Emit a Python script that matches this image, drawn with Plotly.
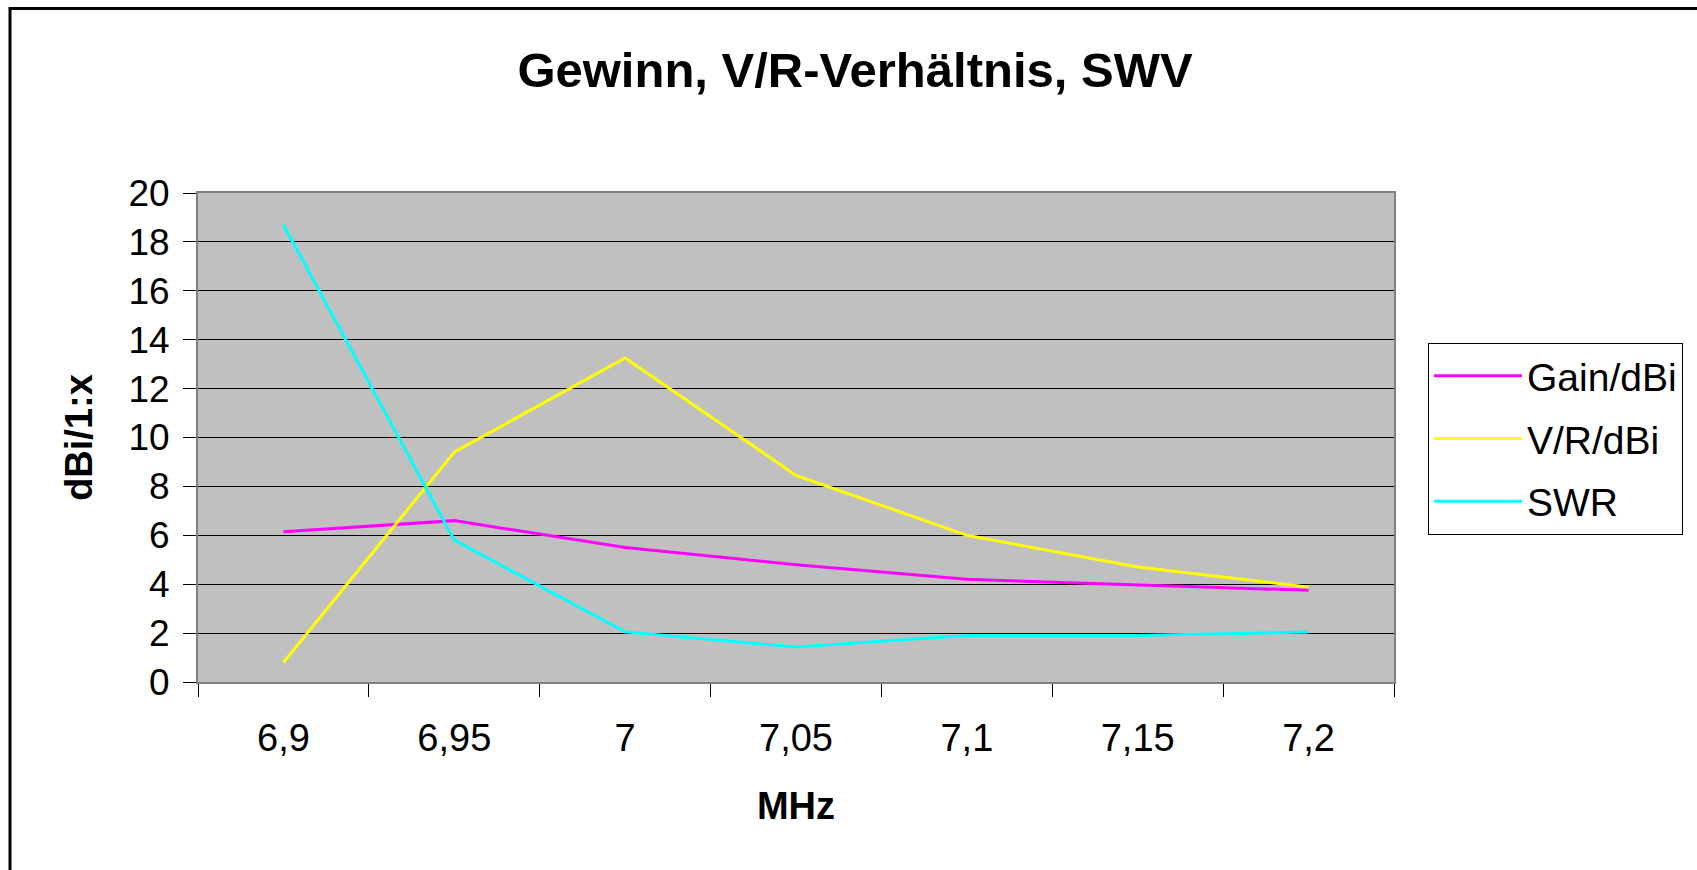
import plotly.graph_objects as go

freqs = ["6,9", "6,95", "7", "7,05", "7,1", "7,15", "7,2"]
gain = [6.15, 6.6, 5.5, 4.8, 4.2, 3.97, 3.75]
vr = [0.8, 9.4, 13.25, 8.45, 6.0, 4.7, 3.88]
swr = [18.7, 5.8, 2.05, 1.43, 1.9, 1.9, 2.05]

series_names = ["Gain/dBi", "V/R/dBi", "SWR"]
series_colors = ["#FF00FF", "#FFFF00", "#00FFFF"]
series_values = [gain, vr, swr]

FONT = "Liberation Sans, Arial, sans-serif"

W, H = 1697, 870
ML, MR, MT, MB = 198, 303, 193, 188
PW = W - ML - MR
PH = H - MT - MB

def px_x(px):
    return (px - ML) / PW

def px_y(py):
    return (H - MB - py) / PH

fig = go.Figure()
for name, color, vals in zip(series_names, series_colors, series_values):
    fig.add_trace(go.Scatter(
        x=freqs, y=vals, name=name, mode="lines",
        line=dict(color=color, width=3),
        legendgroup=name,
    ))

fig.update_layout(
    width=W, height=H,
    margin=dict(l=ML, r=MR, t=MT, b=MB, pad=0),
    paper_bgcolor="white",
    plot_bgcolor="#C0C0C0",
    font=dict(family=FONT, color="black", size=37),
    title=dict(
        text="<b>Gewinn, V/R-Verhältnis, SWV</b>",
        font=dict(family=FONT, size=49, color="black"),
        x=855 / W, xref="container", xanchor="center",
        y=1 - 70 / H, yref="container", yanchor="middle",
    ),
    showlegend=True,
    legend=dict(
        x=px_x(1428), y=px_y(343), xanchor="left", yanchor="top",
        bordercolor="black", borderwidth=1, bgcolor="white",
        font=dict(family=FONT, size=39, color="black"),
        tracegroupgap=9,
        itemwidth=88,
    ),
    xaxis=dict(
        type="category",
        tickson="boundaries",
        ticks="outside", ticklen=13, tickcolor="black", tickwidth=1,
        showgrid=False,
        showline=True, linecolor="#808080", linewidth=2, mirror=True,
        tickfont=dict(family=FONT, size=38, color="black"),
        ticklabelstandoff=21,
        title=dict(text="<b>MHz</b>", font=dict(family=FONT, size=38, color="black"), standoff=35),
        range=[-0.5, 6.5],
    ),
    yaxis=dict(
        range=[0, 20], dtick=2, tick0=0,
        ticks="outside", ticklen=13, tickcolor="black", tickwidth=1,
        showgrid=True, gridcolor="black", gridwidth=1,
        zeroline=False,
        showline=True, linecolor="#808080", linewidth=2, mirror=True,
        tickfont=dict(family=FONT, size=37, color="black"),
        ticklabelstandoff=6,
        title=dict(text="<b>dBi/1:x</b>", font=dict(family=FONT, size=38, color="black"), standoff=24),
    ),
    shapes=[dict(
        type="rect", xref="paper", yref="paper",
        x0=px_x(10), x1=px_x(W + 20), y0=px_y(H + 20), y1=px_y(8.5),
        line=dict(color="black", width=3), fillcolor="rgba(0,0,0,0)",
        layer="below",
    )],
)

fig.write_html("out.html")
